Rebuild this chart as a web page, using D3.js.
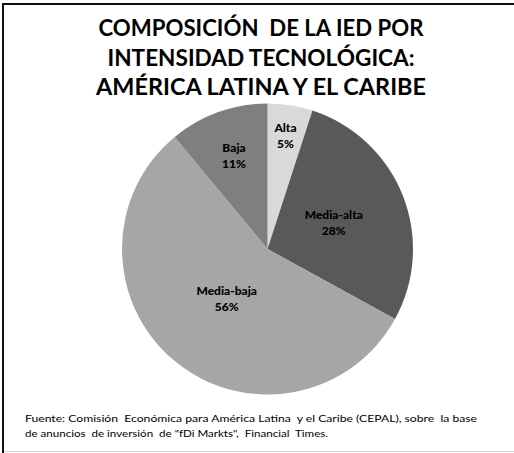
<!DOCTYPE html>
<html><head><meta charset="utf-8">
<script src="https://cdn.jsdelivr.net/npm/d3@7"></script>
<style>
html,body{margin:0;padding:0;background:#fff;}
svg{display:block;}
text{white-space:pre;}
</style></head>
<body>
<svg id="c" width="514" height="453"></svg>
<script>
const titleLines = ["COMPOSICIÓN  DE LA IED POR", "INTENSIDAD TECNOLÓGICA:", "AMÉRICA LATINA Y EL CARIBE"];
const categories = ["Alta", "Media-alta", "Media-baja", "Baja"];
const values = [5, 28, 56, 11];
const colors = ["#d9d9d9", "#595959", "#a6a6a6", "#7f7f7f"];
const footerLines = [
  "Fuente: Comisión  Económica para América Latina  y el Caribe (CEPAL), sobre  la base",
  "de anuncios  de inversión  de \"fDi Markts\",  Financial  Times."
];

const svg = d3.select("#c");
const W = 514, H = 453;

// frame
svg.append("line").attr("x1", 2).attr("x2", W).attr("y1", 4).attr("y2", 4).attr("stroke", "#111").attr("stroke-width", 2);
svg.append("line").attr("x1", 3).attr("x2", 3).attr("y1", 3).attr("y2", H).attr("stroke", "#111").attr("stroke-width", 2);
svg.append("line").attr("x1", 4).attr("x2", W).attr("y1", 451.5).attr("y2", 451.5).attr("stroke", "#d8d8d8").attr("stroke-width", 1);

// title
const tFont = "Lato, 'Open Sans', sans-serif";
const tWidths = [325, 307, 330];
titleLines.forEach((t, i) => {
  svg.append("text")
    .attr("x", 261).attr("y", 36 + i * 29.5)
    .attr("text-anchor", "middle")
    .attr("font-family", tFont).attr("font-weight", 700).attr("font-size", 23)
    .attr("fill", "#000")
    .attr("textLength", tWidths[i]).attr("lengthAdjust", "spacingAndGlyphs")
    .text(t);
});

// pie
const cx = 267.5, cy = 249, R = 145.5;
const g = svg.append("g").attr("transform", `translate(${cx},${cy})`);
const pie = d3.pie().sort(null).value(d => d.v);
const data = pie(categories.map((c, i) => ({c, v: values[i], col: colors[i]})));
const arc = d3.arc().innerRadius(0).outerRadius(R);
g.selectAll("path.s").data(data).enter().append("path")
  .attr("class", "s").attr("d", arc).attr("fill", d => d.data.col);

const total = d3.sum(values);
const labelR = d3.scaleLinear().domain([0.05, 0.11, 0.28, 0.56]).range([0.79, 0.68, 0.49, 0.44]).clamp(true);
data.forEach(d => {
  const a = (d.startAngle + d.endAngle) / 2;
  const r = R * labelR(d.data.v / total);
  const x = Math.sin(a) * r, y = -Math.cos(a) * r;
  const t = g.append("text").attr("text-anchor", "middle")
    .attr("font-family", tFont).attr("font-weight", 900).attr("font-size", 12).attr("fill", "#000");
  t.append("tspan").attr("x", x).attr("y", y - 3.5).text(d.data.c);
  t.append("tspan").attr("x", x).attr("y", y + 12.5).text(d.data.v + "%");
});

// footer
const fWidths = [452, 303];
footerLines.forEach((t, i) => {
  svg.append("text")
    .attr("x", 25).attr("y", 422 + i * 15)
    .attr("font-family", tFont).attr("font-size", 10).attr("fill", "#000")
    .attr("textLength", fWidths[i]).attr("lengthAdjust", "spacingAndGlyphs")
    .text(t);
});
</script>
</body></html>
